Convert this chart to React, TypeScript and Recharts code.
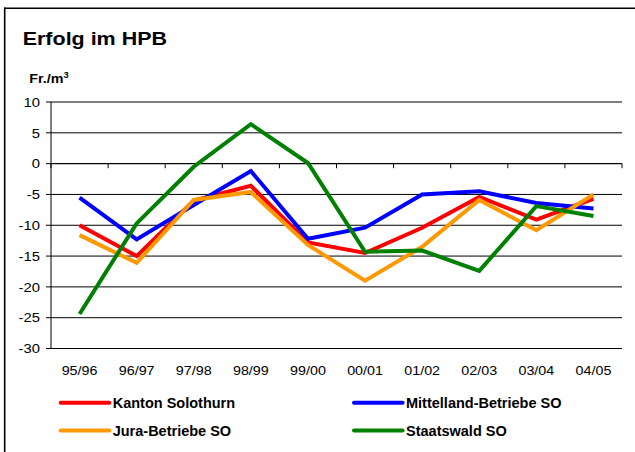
import React from "react";
import { LineChart, Line, XAxis, YAxis, CartesianGrid, ReferenceLine } from "recharts";

const categories = ["95/96", "96/97", "97/98", "98/99", "99/00", "00/01", "01/02", "02/03", "03/04", "04/05"];
const kanton = [-10, -15, -6, -3.6, -12.8, -14.5, -10.4, -5.4, -9.1, -5.7];
const mittelland = [-5.5, -12.3, -6.7, -1.2, -12.2, -10.4, -5, -4.5, -6.4, -7.3];
const jura = [-11.6, -16.1, -5.9, -4.6, -13.2, -19, -13.5, -5.9, -10.8, -5.0];
const staatswald = [-24.4, -9.7, -0.5, 6.4, 0.1, -14.3, -14.1, -17.4, -6.9, -8.5];
const yTicks = [-30, -25, -20, -15, -10, -5, 0, 5, 10];

const seriesNames = ["Kanton Solothurn", "Mittelland-Betriebe SO", "Jura-Betriebe SO", "Staatswald SO"];
const seriesColors = ["#FF0000", "#0000FF", "#FF9900", "#008000"];
const seriesKeys = ["kanton", "mittelland", "jura", "staatswald"];
const seriesValues = [kanton, mittelland, jura, staatswald];

const data = categories.map((c, i) => ({
  x: i + 0.5,
  cat: c,
  kanton: kanton[i],
  mittelland: mittelland[i],
  jura: jura[i],
  staatswald: staatswald[i],
}));

const FONT = "'Liberation Sans', Arial, sans-serif";

const XTick = (props: any) => {
  const { x, y, payload } = props;
  const label = categories[Math.floor(payload.value)];
  return (
    <text
      transform={`translate(${x},${y}) scale(1.1,1)`}
      textAnchor="middle"
      fontFamily={FONT}
      fontSize={13}
      fill="#000"
      dy={18.5}
    >
      {label}
    </text>
  );
};

const YTick = (props: any) => {
  const { x, y, payload } = props;
  return (
    <text
      transform={`translate(${x},${y}) scale(1.14,1)`}
      textAnchor="end"
      fontFamily={FONT}
      fontSize={13}
      fill="#000"
      dy="0.36em"
    >
      {payload.value}
    </text>
  );
};

const legendCols = [60.7, 354];
const legendRows = [402.7, 430.5];

export default function App() {
  const boundaries = categories.map((_, i) => i).concat([categories.length]);
  return (
    <div style={{ position: "absolute", left: 0, top: 0, width: 635, height: 452, background: "#fff" }}>
      <LineChart
        width={635}
        height={452}
        data={data}
        margin={{ top: 102, right: 13, bottom: 73.5, left: 6 }}
      >
        <CartesianGrid horizontal={true} vertical={false} stroke="#000" strokeWidth={1} />
        <XAxis
          dataKey="x"
          type="number"
          domain={[0, categories.length]}
          ticks={categories.map((_, i) => i + 0.5)}
          axisLine={false}
          tickLine={false}
          tick={<XTick />}
          height={30}
          interval={0}
        />
        <YAxis
          domain={[-30, 10]}
          ticks={yTicks}
          width={45}
          axisLine={{ stroke: "#000", strokeWidth: 1 }}
          tickLine={{ stroke: "#000", strokeWidth: 1 }}
          tickSize={5}
          tickMargin={6}
          tick={<YTick />}
          interval={0}
          allowDataOverflow
        />
        <ReferenceLine y={0} stroke="#000" strokeWidth={1} />
        {boundaries.map((b) => (
          <ReferenceLine
            key={"t" + b}
            segment={[
              { x: b, y: 0 },
              { x: b, y: -0.75 },
            ]}
            stroke="#000"
            strokeWidth={1}
          />
        ))}
        {seriesKeys.map((k, i) => (
          <Line
            key={k}
            dataKey={k}
            type="linear"
            stroke={seriesColors[i]}
            strokeWidth={4}
            dot={false}
            activeDot={false}
            isAnimationActive={false}
          />
        ))}
      </LineChart>
      <svg
        width={635}
        height={452}
        style={{ position: "absolute", left: 0, top: 0, pointerEvents: "none" }}
      >
        <line x1={4.7} y1={7.5} x2={4.7} y2={452} stroke="#000" strokeWidth={1.6} />
        <line x1={4} y1={8.2} x2={635} y2={8.2} stroke="#000" strokeWidth={1.6} />
        <text
          transform="translate(22.7,45) scale(1.13,1)"
          fontFamily={FONT}
          fontWeight="bold"
          fontSize={19}
          fill="#000"
        >
          Erfolg im HPB
        </text>
        <text
          transform="translate(29.3,83.3) scale(1.1,1)"
          fontFamily={FONT}
          fontWeight="bold"
          fontSize={13}
          fill="#000"
        >
          Fr./m
          <tspan fontSize={8.5} dy={-5}>3</tspan>
        </text>
        {seriesNames.map((name, i) => {
          const col = i % 2;
          const row = Math.floor(i / 2);
          const lx = legendCols[col];
          const ly = legendRows[row];
          return (
            <g key={name}>
              <line
                x1={lx}
                y1={ly}
                x2={lx + 48.6}
                y2={ly}
                stroke={seriesColors[i]}
                strokeWidth={4}
                strokeLinecap="round"
              />
              <text
                x={lx + 52}
                y={ly}
                dy="0.36em"
                fontFamily={FONT}
                fontWeight="bold"
                fontSize={14.5}
                fill="#000"
              >
                {name}
              </text>
            </g>
          );
        })}
      </svg>
    </div>
  );
}
